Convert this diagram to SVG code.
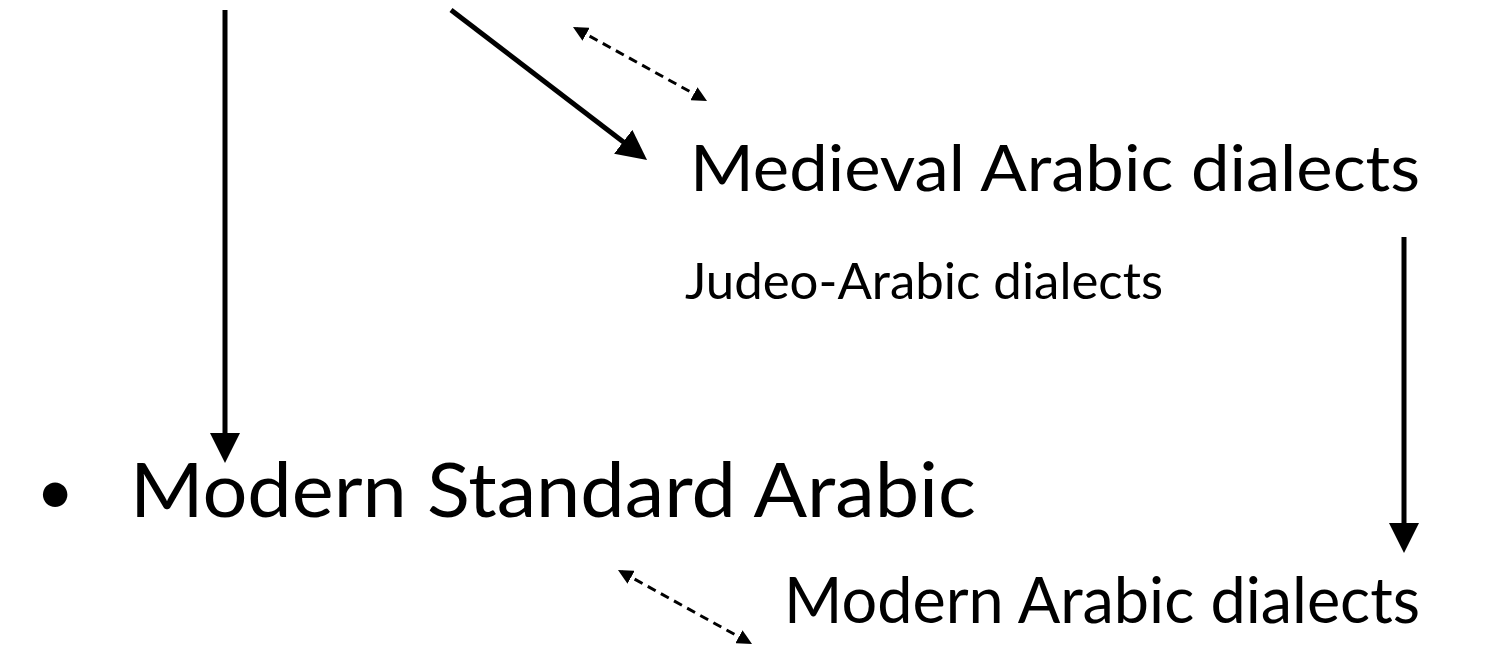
<svg xmlns="http://www.w3.org/2000/svg" width="1488" height="645" viewBox="0 0 1488 645">
<style>
text{font-family:Lato,"Open Sans","Liberation Sans",sans-serif;fill:#000}
.solid{stroke:#000;stroke-width:5;fill:none}
.dash{stroke:#000;stroke-width:3;stroke-dasharray:9 6;fill:none}
</style>
<defs>
<marker id="big" markerUnits="userSpaceOnUse" viewBox="0 0 30 30" markerWidth="30" markerHeight="30" refX="20" refY="15" orient="auto">
<path d="M0,0 L30,15 L0,30 z" fill="#000"/>
</marker>
<marker id="small" markerUnits="userSpaceOnUse" viewBox="0 0 15 15" markerWidth="15" markerHeight="15" refX="11" refY="7.5" orient="auto-start-reverse">
<path d="M0,0 L15,7.5 L0,15 z" fill="#000"/>
</marker>
</defs>
<rect width="1488" height="645" fill="#fff"/>
<g id="connectors">
<line class="solid" x1="225" y1="10" x2="225" y2="453" marker-end="url(#big)"/>
<line class="solid" x1="451" y1="10" x2="639.1" y2="153.9" marker-end="url(#big)"/>
<line class="solid" x1="1404" y1="237" x2="1404" y2="543" marker-end="url(#big)"/>
<line class="dash" x1="576.5" y1="28.9" x2="703.5" y2="99.1" marker-start="url(#small)" marker-end="url(#small)"/>
<line class="dash" x1="621.5" y1="571.9" x2="748.5" y2="642.1" marker-start="url(#small)" marker-end="url(#small)"/>
</g>
<g id="medieval">
<text x="690" y="191" font-size="64" textLength="730" lengthAdjust="spacingAndGlyphs">Medieval Arabic dialects</text>
</g>
<g id="judeo">
<text x="685" y="299" font-size="51" textLength="478" lengthAdjust="spacingAndGlyphs">Judeo-Arabic dialects</text>
</g>
<g id="msa">
<text x="36" y="514" font-size="66">•</text>
<text x="130" y="517" font-size="75" textLength="846" lengthAdjust="spacingAndGlyphs">Modern Standard Arabic</text>
</g>
<g id="modern-dialects">
<text x="784" y="623" font-size="63" textLength="636" lengthAdjust="spacingAndGlyphs">Modern Arabic dialects</text>
</g>
</svg>
